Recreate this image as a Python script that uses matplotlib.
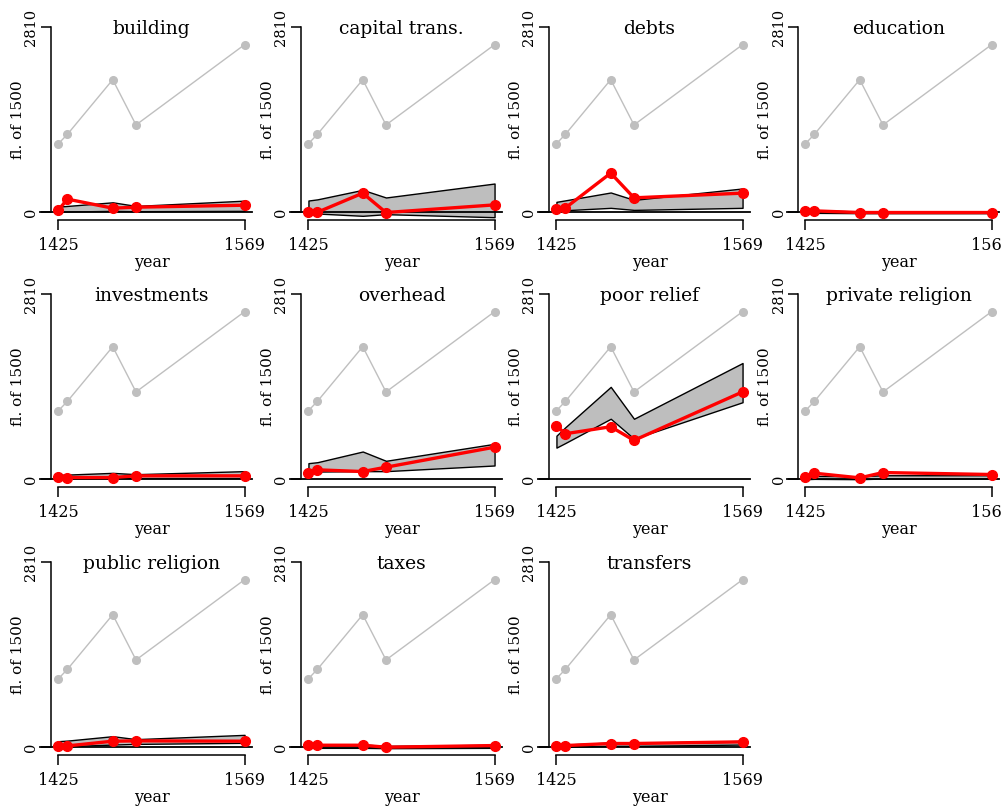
import matplotlib
matplotlib.use("Agg")
import matplotlib.pyplot as plt
import matplotlib.transforms as mtransforms

plt.rcParams['font.family'] = ['DejaVu Serif']

years = [1425, 1432, 1467, 1485, 1569]
total = [1040, 1183, 2011, 1324, 2542]
ymax = 2810

categories = ["building", "capital trans.", "debts", "education",
              "investments", "overhead", "poor relief", "private religion",
              "public religion", "taxes", "transfers"]

estimate = {
    "building":         [35, 198, 61, 76, 106],
    "capital trans.":   [0, 0, 289, -5, 111],
    "debts":            [46, 66, 593, 218, 289],
    "education":        [25, 20, -5, -5, -5],
    "investments":      [30, 25, 25, 51, 51],
    "overhead":         [96, 142, 116, 182, 486],
    "poor relief":      [805, 690, 796, 589, 1325],
    "private religion": [30, 91, 20, 101, 71],
    "public religion":  [20, 20, 91, 96, 91],
    "taxes":            [30, 30, 30, 0, 25],
    "transfers":        [25, 25, 56, 56, 81],
}
upper = {
    "building":         [85, 95, 150, 95, 175],
    "capital trans.":   [177, 195, 339, 223, 435],
    "debts":            [157, 180, 299, 187, 360],
    "education":        [30, 30, 10, 10, 15],
    "investments":      [66, 70, 96, 76, 122],
    "overhead":         [243, 258, 420, 279, 537],
    "poor relief":      [660, 790, 1401, 917, 1763],
    "private religion": [40, 50, 45, 60, 60],
    "public religion":  [91, 100, 167, 122, 187],
    "taxes":            [40, 40, 40, 20, 35],
    "transfers":        [40, 40, 70, 65, 95],
}
lower = {
    "building":         [5, 10, 20, 15, 20],
    "capital trans.":   [-15, -20, -55, -30, -76],
    "debts":            [20, 30, 66, 35, 66],
    "education":        [-10, -10, -15, -15, -15],
    "investments":      [10, 10, 15, 15, 15],
    "overhead":         [106, 116, 122, 122, 208],
    "poor relief":      [479, 550, 917, 615, 1168],
    "private religion": [0, 5, 0, 10, 10],
    "public religion":  [15, 15, 40, 50, 66],
    "taxes":            [-10, -10, -10, -15, -10],
    "transfers":        [5, 5, 20, 20, 40],
}

W, H = 1002, 807
fig = plt.figure(figsize=(W / 100, H / 100), dpi=100)

col_left = [51, 301, 549, 798]
row_top = [19.6, 286.6, 554.6]
ax_w, ax_h = 201, 200

xpad = 0.04 * (years[-1] - years[0])
ypad = 0.04 * ymax

for i, cat in enumerate(categories):
    r, c = divmod(i, 4)
    left = col_left[c] / W
    bottom = 1 - (row_top[r] + ax_h) / H
    ax = fig.add_axes([left, bottom, ax_w / W, ax_h / H])
    ax.set_xlim(years[0] - xpad, years[-1] + xpad)
    ax.set_ylim(-ypad, ymax + ypad)

    # total (gray)
    ax.plot(years, total, color='#BFBFBF', lw=1.0, marker='o', ms=5.5,
            mec='#BFBFBF', mfc='#BFBFBF', zorder=2)
    # band
    ax.fill_between(years, lower[cat], upper[cat], facecolor='#BEBEBE',
                    edgecolor='black', lw=1.0, zorder=3)
    # zero line
    trans = mtransforms.blended_transform_factory(ax.transAxes, ax.transData)
    ax.plot([-0.055, 1.0], [0, 0], color='black', lw=1.3, transform=trans,
            clip_on=False, zorder=4)
    # estimate
    ax.plot(years, estimate[cat], color='#FF0000', lw=2.4, marker='o', ms=7,
            mec='#FF0000', mfc='#FF0000', zorder=5, clip_on=False)

    for s in ['top', 'right']:
        ax.spines[s].set_visible(False)
    ax.spines['left'].set_bounds(0, ymax)
    ax.spines['bottom'].set_bounds(years[0], years[-1])
    ax.spines['left'].set_linewidth(1.1)
    ax.spines['bottom'].set_linewidth(1.1)

    ax.set_yticks([0, ymax])
    ax.set_yticklabels(['0', str(ymax)], rotation=90, va='center', fontsize=10.5)
    ax.set_xticks([years[0], years[-1]])
    ax.set_xticklabels([str(years[0]), str(years[-1])], fontsize=11.5)
    ax.tick_params(axis='y', length=7, width=1.1, pad=2)
    ax.tick_params(axis='x', length=7.5, width=1.1, pad=5)

    ax.set_xlabel('year', fontsize=11.5, labelpad=0)
    ax.set_ylabel('fl. of 1500', fontsize=11, labelpad=-0.5)
    ax.text(0.5, 0.952, cat, transform=ax.transAxes, ha='center',
            va='center', fontsize=13.5)

fig.savefig('out.png', dpi=100)
